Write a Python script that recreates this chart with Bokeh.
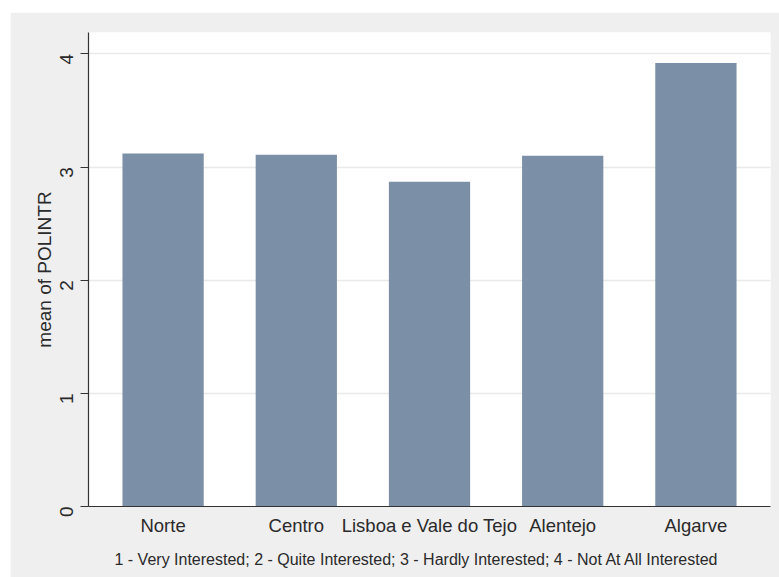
import math
from bokeh.plotting import figure
from bokeh.models import FactorRange, Range1d, Title, FixedTicker
from bokeh.embed import file_html
from bokeh.resources import INLINE

regions = ["Norte", "Centro", "Lisboa e Vale do Tejo", "Alentejo", "Algarve"]
mean_polintr = [3.12, 3.11, 2.87, 3.10, 3.92]
y_ticks = [0, 1, 2, 3, 4]
y_label = "mean of POLINTR"
note_text = ("1 - Very Interested; 2 - Quite Interested; 3 - Hardly Interested; "
             "4 - Not At All Interested")

FONT = "Liberation Sans"
TXT = "#2a2a2a"

p = figure(
    x_range=FactorRange(*regions, range_padding=0.06, range_padding_units="absolute"),
    y_range=Range1d(0, 4.19),
    width=769, height=565,
    output_backend="svg", toolbar_location=None,
    min_border_left=78, min_border_right=9, min_border_top=20, min_border_bottom=71,
    background_fill_color="white", border_fill_color="#efefef",
    outline_line_color=None,
)
p.margin = (12, 0, 0, 10)

p.vbar(x=regions, top=mean_polintr, width=0.61, fill_color="#7b8fa7", line_color=None)

p.xgrid.grid_line_color = None
p.ygrid.grid_line_color = "#e9e9e9"
p.ygrid.grid_line_width = 1.5

# y axis
p.yaxis.ticker = FixedTicker(ticks=y_ticks)
p.yaxis.major_label_orientation = math.pi / 2
p.yaxis.major_tick_out = 8
p.yaxis.major_tick_in = 0
p.yaxis.minor_tick_line_color = None
p.yaxis.major_label_standoff = 14
p.yaxis.axis_label = y_label
p.yaxis.axis_label_standoff = -4
p.yaxis.axis_label_text_font = FONT
p.yaxis.axis_label_text_font_style = "normal"
p.yaxis.axis_label_text_font_size = "19px"
p.yaxis.axis_label_text_color = TXT

# x axis
p.xaxis.major_tick_out = 0
p.xaxis.major_tick_in = 0
p.xaxis.major_label_standoff = 8

for ax in (p.xaxis, p.yaxis):
    ax.axis_line_color = "#333333"
    ax.axis_line_width = 1.2
    ax.major_tick_line_color = "#333333"
    ax.major_label_text_font = FONT
    ax.major_label_text_font_size = "19px"
    ax.major_label_text_color = TXT
p.xaxis.major_label_text_font_size = "18.5px"

p.add_layout(Title(text=note_text, align="left", offset=26, standoff=20,
                   text_font=FONT, text_font_size="16px", text_font_style="normal",
                   text_color=TXT), "below")

open("out.html", "w").write(file_html(p, INLINE))
